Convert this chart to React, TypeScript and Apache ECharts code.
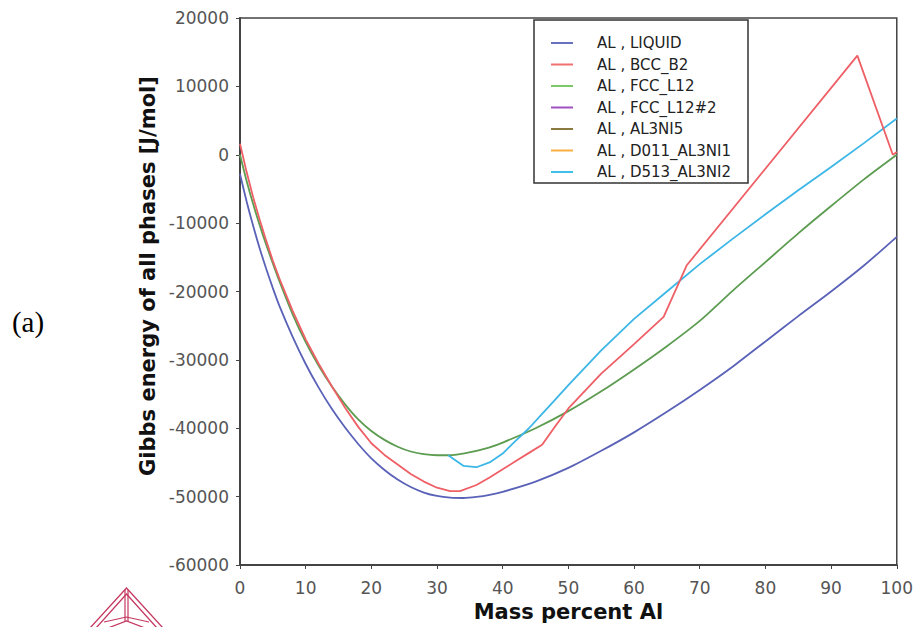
import React, { useEffect, useRef } from "react";
import * as echarts from "echarts";

const seriesNames = [
  "AL , LIQUID",
  "AL , BCC_B2",
  "AL , FCC_L12",
  "AL , FCC_L12#2",
  "AL , AL3NI5",
  "AL , D011_AL3NI1",
  "AL , D513_AL3NI2",
];
const lineColors = ["#5a62b8", "#ee5f66", "#5c9c50", "#a24bc4", "#8b7b3c", "#f5a93a", "#3cb6e6"];
const legendColors = ["#6870c0", "#f07070", "#7cc96a", "#a050c0", "#8a7a40", "#f8b040", "#40c0e8"];

const xTicks = [0, 10, 20, 30, 40, 50, 60, 70, 80, 90, 100];
const yTicks = [-60000, -50000, -40000, -30000, -20000, -10000, 0, 10000, 20000];

const liquidX = [0, 1, 2, 3, 4, 5, 6, 8, 10, 12, 14, 16, 18, 20, 22, 24, 26, 28, 30, 32, 34, 36, 38, 40, 45, 50, 55, 60, 65, 70, 75, 80, 85, 90, 95, 100];
const liquidY = [-2800, -6800, -10400, -13700, -16700, -19500, -22100, -26600, -30600, -34100, -37200, -39900, -42300, -44400, -46100, -47500, -48600, -49400, -49900, -50150, -50200, -50050, -49750, -49300, -47800, -45800, -43300, -40600, -37600, -34400, -31000, -27300, -23600, -20000, -16200, -12000];

const bccX = [0, 1, 2, 3, 4, 5, 6, 8, 10, 12, 14, 16, 18, 20, 22, 24, 26, 28, 30, 32, 33.5, 36, 38, 40, 42, 44, 46, 48, 50, 55, 60, 64.5, 68, 94, 99.4, 100];
const bccY = [1600, -2500, -6200, -9500, -12600, -15500, -18100, -22800, -27000, -30600, -33900, -37000, -39800, -42200, -43900, -45300, -46700, -47800, -48700, -49200, -49200, -48300, -47200, -46000, -44800, -43600, -42400, -39700, -37100, -32000, -27700, -23700, -16200, 14500, 0, 400];

const fccX = [0, 1, 2, 3, 4, 5, 6, 8, 10, 12, 14, 16, 18, 20, 22, 24, 26, 28, 30, 32, 34, 36, 38, 40, 45, 50, 55, 60, 65, 70, 75, 80, 85, 90, 95, 100];
const fccY = [0, -3800, -7200, -10300, -13200, -15900, -18500, -23300, -27400, -30900, -33900, -36500, -38700, -40400, -41700, -42700, -43400, -43800, -43950, -43950, -43700, -43300, -42800, -42100, -40000, -37500, -34600, -31400, -28000, -24300, -19900, -15700, -11500, -7500, -3600, 0];

const d513X = [31.7, 34, 36, 38, 40, 42, 44, 46, 48, 50, 55, 60, 65, 70, 75, 80, 85, 90, 95, 100];
const d513Y = [-43950, -45500, -45700, -45000, -43700, -41800, -40000, -37900, -35800, -33700, -28600, -24000, -20000, -16000, -12300, -8700, -5200, -1800, 1700, 5300];

const pairs = (xs: number[], ys: number[]) => xs.map((x, i) => [x, ys[i]]);

const seriesData: number[][][] = [
  pairs(liquidX, liquidY),
  pairs(bccX, bccY),
  pairs(fccX, fccY),
  [],
  [],
  [],
  pairs(d513X, d513Y),
];

const logoColor = "#c4375f";

export default function App() {
  const ref = useRef<HTMLDivElement>(null);
  useEffect(() => {
    if (!ref.current) return;
    const chart = echarts.init(ref.current, undefined, { renderer: "svg" });
    const smoothFor = [0.25, 0, 0.25, 0, 0, 0, 0];
    chart.setOption({
      animation: false,
      backgroundColor: "#ffffff",
      grid: {
        left: 240,
        right: 19,
        top: 18,
        bottom: 57,
        show: true,
        borderColor: "#444",
        borderWidth: 1.5,
        backgroundColor: "transparent",
      },
      xAxis: {
        type: "value",
        min: 0,
        max: 100,
        interval: 10,
        name: "Mass percent Al",
        nameLocation: "middle",
        nameGap: 36,
        nameTextStyle: { fontFamily: "DejaVu Sans", fontWeight: "bold", fontSize: 21, color: "#111" },
        axisLine: { show: true, onZero: false, lineStyle: { color: "#444", width: 2 } },
        axisTick: { show: true, length: 4, lineStyle: { color: "#444" } },
        axisLabel: {
          margin: 14,
          fontFamily: "DejaVu Sans",
          fontSize: 17,
          color: "#555",
          formatter: (v: number) => (xTicks.includes(v) ? String(v) : ""),
        },
        splitLine: { show: false },
      },
      yAxis: {
        type: "value",
        min: -60000,
        max: 20000,
        interval: 10000,
        axisLine: { show: true, onZero: false, lineStyle: { color: "#444", width: 2 } },
        axisTick: { show: true, length: 4, lineStyle: { color: "#444" } },
        axisLabel: {
          margin: 11,
          fontFamily: "DejaVu Sans",
          fontSize: 17,
          color: "#555",
          formatter: (v: number) => (yTicks.includes(v) ? String(v) : ""),
        },
        splitLine: { show: false },
      },
      legend: {
        orient: "vertical",
        left: 551,
        top: 35.5,
        padding: 0,
        icon: "rect",
        itemWidth: 22,
        itemHeight: 2,
        itemGap: 6.5,
        z: 5,
        textStyle: {
          fontFamily: "DejaVu Sans",
          fontSize: 15,
          lineHeight: 14,
          color: "#222",
          padding: [0, 0, 0, 19],
        },
        data: seriesNames.map((n, i) => ({ name: n, itemStyle: { color: legendColors[i] } })),
      },
      graphic: [
        {
          type: "rect",
          z: 3,
          shape: { x: 534, y: 20, width: 214, height: 163 },
          style: { fill: "#ffffff", stroke: "#333", lineWidth: 1.5 },
        },
        {
          type: "text",
          x: 148,
          y: 276,
          rotation: Math.PI / 2,
          style: {
            text: "Gibbs energy of all phases [J/mol]",
            fontFamily: "DejaVu Sans",
            fontWeight: "bold",
            fontSize: 21,
            fill: "#111",
            textAlign: "center",
            textVerticalAlign: "middle",
            align: "center",
            verticalAlign: "middle",
          },
        },
        {
          type: "text",
          x: 28,
          y: 322,
          style: {
            text: "(a)",
            fontFamily: "Liberation Serif",
            fontSize: 29,
            fill: "#000",
            textAlign: "center",
            textVerticalAlign: "middle",
            align: "center",
            verticalAlign: "middle",
          },
        },
        {
          type: "group",
          children: [
            { type: "polyline", shape: { points: [[90, 628], [126.5, 588], [163, 628]] }, style: { stroke: logoColor, lineWidth: 1.3, fill: "none" } },
            { type: "polyline", shape: { points: [[96, 628], [126.5, 594], [157, 628]] }, style: { stroke: logoColor, lineWidth: 1.3, fill: "none" } },
            { type: "line", shape: { x1: 125, y1: 590, x2: 125, y2: 621 }, style: { stroke: logoColor, lineWidth: 1.2 } },
            { type: "line", shape: { x1: 128, y1: 590, x2: 128, y2: 621 }, style: { stroke: logoColor, lineWidth: 1.2 } },
            { type: "polyline", shape: { points: [[104, 622], [126.5, 617], [149, 622]] }, style: { stroke: logoColor, lineWidth: 1.2, fill: "none" } },
            { type: "polyline", shape: { points: [[108, 628], [126.5, 621], [145, 628]] }, style: { stroke: logoColor, lineWidth: 1.2, fill: "none" } },
          ],
        },
      ],
      series: seriesNames.map((n, i) => ({
        name: n,
        type: "line",
        data: seriesData[i],
        showSymbol: false,
        symbol: "none",
        smooth: smoothFor[i],
        color: legendColors[i],
        lineStyle: { color: lineColors[i], width: 1.8 },
        z: i === 1 ? 3 : 2,
      })),
    });
    return () => chart.dispose();
  }, []);
  return (
    <div
      ref={ref}
      style={{ position: "fixed", left: 0, top: 0, width: 916, height: 627 }}
    />
  );
}
